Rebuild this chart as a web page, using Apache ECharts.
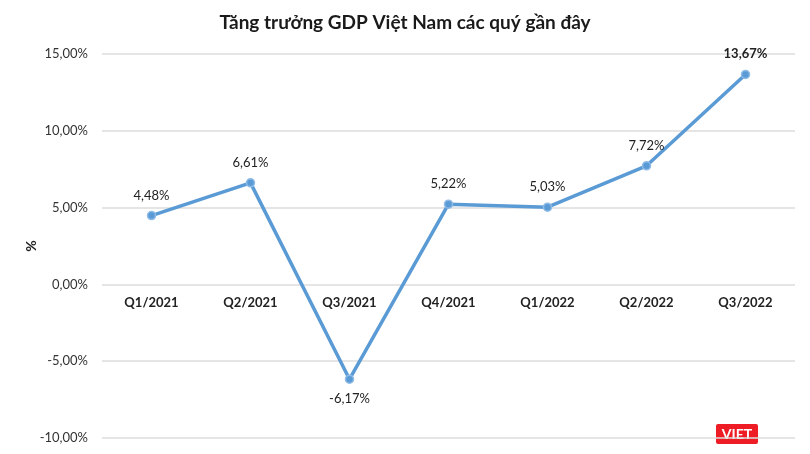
<!DOCTYPE html>
<html><head><meta charset="utf-8">
<script src="https://cdn.jsdelivr.net/npm/echarts@6/dist/echarts.min.js"></script>
<style>html,body{margin:0;padding:0;background:#fff}#c{width:810px;height:454px}</style>
</head><body><div id="c"></div>
<script>
const categories = ['Q1/2021','Q2/2021','Q3/2021','Q4/2021','Q1/2022','Q2/2022','Q3/2022'];
const gdpGrowth = [4.48, 6.61, -6.17, 5.22, 5.03, 7.72, 13.67];
const titleText = 'Tăng trưởng GDP Việt Nam các quý gần đây';
const yMin = -10, yMax = 15, yStep = 5;
const fmt = v => v.toFixed(2).replace('.', ',') + '%';
const FONT = 'Lato, "Open Sans", sans-serif';
const GRID_TOP = 54, GRID_BOTTOM = 16, H = 454;
// distance from bottom of plot to the zero line, so the category axis sits on 0
const plotH = H - GRID_TOP - GRID_BOTTOM;
const zeroOffset = -plotH * (0 - yMin) / (yMax - yMin);
const chart = echarts.init(document.getElementById('c'));
chart.setOption({
  backgroundColor: '#fff',
  animation: false,
  title: { text: titleText, left: 'center', top: 8,
    textStyle: { fontFamily: FONT, fontSize: 19, fontWeight: 'bold', color: '#1a1a1a' } },
  grid: { left: 102, right: 15, top: GRID_TOP, bottom: GRID_BOTTOM, outerBoundsMode: 'none', containLabel: false },
  xAxis: { type: 'category', data: categories, offset: zeroOffset,
    axisLine: { show: false, onZero: false }, axisTick: { show: false },
    axisLabel: { fontFamily: FONT, fontSize: 13, fontWeight: 'bold', color: '#222', margin: 12 } },
  yAxis: { type: 'value', min: yMin, max: yMax, interval: yStep,
    name: '%', nameLocation: 'middle', nameGap: 64, nameRotate: 90, nameMoveOverlap: false,
    nameTextStyle: { fontFamily: FONT, fontSize: 14, fontWeight: 'bold', color: '#222' },
    axisLabel: { fontFamily: FONT, fontSize: 13, color: '#333', margin: 14, formatter: v => fmt(v) },
    splitLine: { lineStyle: { color: '#dcdcdc', width: 1.5 } } },
  series: [{
    type: 'line', data: gdpGrowth.map((v, i) => ({
      value: v,
      label: i === 2 ? { position: 'bottom', distance: 8 } : (i === 6 ? { fontWeight: 'bold' } : {})
    })),
    symbol: 'circle', symbolSize: 8,
    lineStyle: { color: '#5b9bd5', width: 3.5 },
    itemStyle: { color: '#5b9bd5', borderColor: '#8fbbe6', borderWidth: 1.5 },
    label: { show: true, position: 'top', distance: 9, fontFamily: FONT, fontSize: 13, color: '#222',
      formatter: p => fmt(p.value) }
  }],
  graphic: [{
    type: 'group', right: 52, bottom: 10,
    children: [
      { type: 'rect', shape: { x: 0, y: 0, width: 42, height: 20, r: 2 }, style: { fill: '#ee1c25' } },
      { type: 'text', style: { x: 21, y: 10, text: 'VIET', align: 'center', verticalAlign: 'middle',
        fill: '#fff', font: 'bold 14px ' + FONT } }
    ]
  }]
});
</script></body></html>
